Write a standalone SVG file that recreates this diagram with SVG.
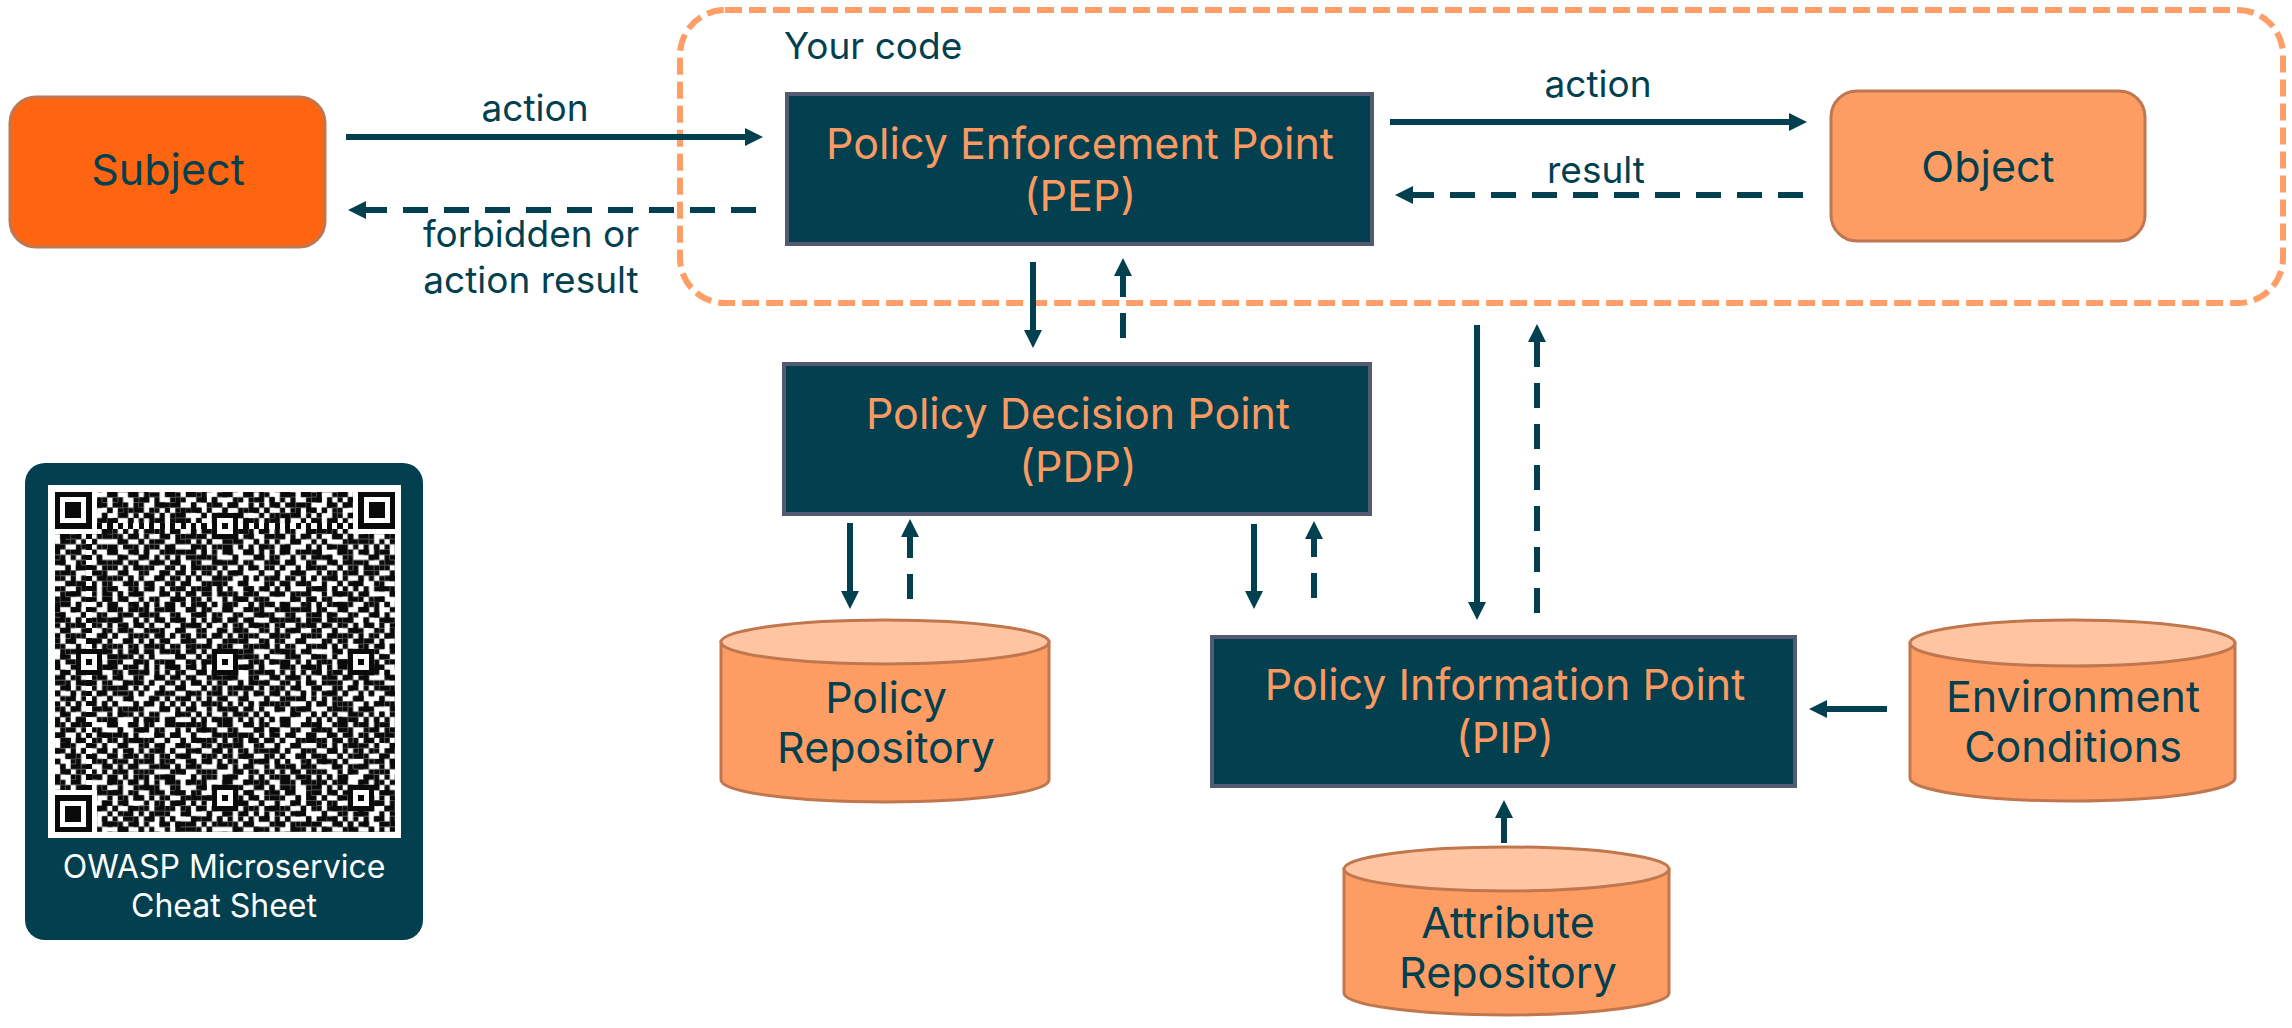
<svg xmlns="http://www.w3.org/2000/svg" width="2292" height="1028" viewBox="0 0 2292 1028">
<style>
.lbl{font-family:Inter,"Liberation Sans",sans-serif;font-size:37px;fill:#02404F;text-anchor:middle}
.big{font-family:Inter,"Liberation Sans",sans-serif;font-size:43px;text-anchor:middle}
.dk{fill:#FA9A62}
.tl{fill:#02404F}
.darkbox{fill:#02404F;stroke:#555A73;stroke-width:4}
.obox{stroke:#BE7750;stroke-width:3}
.cylb{fill:#FE9D63;stroke:#C0774E;stroke-width:3}
.cylt{fill:#FFC4A1;stroke:#C0774E;stroke-width:3}
.solid{stroke:#02404F;stroke-width:6;fill:none}
.dash{stroke:#02404F;stroke-width:6;fill:none;stroke-dasharray:25 16}
.qrt{font-family:Inter,"Liberation Sans",sans-serif;font-size:32px;fill:#FFFFFF;text-anchor:middle}
</style>
<defs>
<marker id="ah" markerUnits="userSpaceOnUse" markerWidth="18" markerHeight="18" refX="0" refY="9" orient="auto" viewBox="0 0 18 18">
<path d="M0,0 L18,9 L0,18 Z" fill="#02404F"/>
</marker>
<pattern id="qa" width="11" height="11" patternUnits="userSpaceOnUse">
<path fill="#0A0A0A" d="M0 0h1v1h-1z M3 0h2v1h-2z M6 0h1v1h-1z M10 0h1v1h-1z M1 1h1v1h-1z M5 1h2v1h-2z M8 1h1v1h-1z M0 2h2v1h-2z M4 2h1v1h-1z M8 2h2v1h-2z M2 3h1v1h-1z M4 3h2v1h-2z M7 3h1v1h-1z M10 3h1v1h-1z M1 4h2v1h-2z M6 4h1v1h-1z M9 4h1v1h-1z M0 5h1v1h-1z M3 5h1v1h-1z M5 5h1v1h-1z M8 5h2v1h-2z M2 6h2v1h-2z M7 6h1v1h-1z M10 6h1v1h-1z M0 7h1v1h-1z M4 7h1v1h-1z M6 7h2v1h-2z M9 7h1v1h-1z M1 8h1v1h-1z M3 8h2v1h-2z M9 8h2v1h-2z M1 9h2v1h-2z M5 9h1v1h-1z M7 9h1v1h-1z M0 10h1v1h-1z M4 10h1v1h-1z M6 10h1v1h-1z M8 10h1v1h-1z M10 10h1v1h-1z"/>
</pattern>
<pattern id="qb" x="3" y="5" width="13" height="13" patternUnits="userSpaceOnUse">
<path fill="#0A0A0A" d="M2 0h1v1h-1z M7 0h2v1h-2z M11 0h1v1h-1z M0 1h1v1h-1z M4 1h1v1h-1z M9 1h1v1h-1z M12 1h1v1h-1z M3 2h1v1h-1z M6 2h2v1h-2z M10 2h1v1h-1z M1 3h1v1h-1z M5 3h1v1h-1z M8 3h1v1h-1z M11 3h2v1h-2z M0 4h1v1h-1z M3 4h2v1h-2z M9 4h1v1h-1z M2 5h1v1h-1z M6 5h1v1h-1z M10 5h2v1h-2z M1 6h1v1h-1z M4 6h1v1h-1z M7 6h2v1h-2z M12 6h1v1h-1z M0 7h1v1h-1z M5 7h1v1h-1z M9 7h2v1h-2z M2 8h2v1h-2z M7 8h1v1h-1z M11 8h1v1h-1z M1 9h1v1h-1z M6 9h1v1h-1z M8 9h1v1h-1z M12 9h1v1h-1z M0 10h1v1h-1z M4 10h2v1h-2z M10 10h1v1h-1z M3 11h1v1h-1z M7 11h1v1h-1z M9 11h1v1h-1z M11 11h1v1h-1z M1 12h2v1h-2z M6 12h1v1h-1z M12 12h1v1h-1z"/>
</pattern>
<g id="finder">
<rect x="0" y="0" width="7" height="7" fill="#0A0A0A"/>
<rect x="1" y="1" width="5" height="5" fill="#FFFFFF"/>
<rect x="2" y="2" width="3" height="3" fill="#0A0A0A"/>
</g>
<g id="align">
<rect x="-2" y="-2" width="5" height="5" fill="#0A0A0A"/>
<rect x="-1" y="-1" width="3" height="3" fill="#FFFFFF"/>
<rect x="0" y="0" width="1" height="1" fill="#0A0A0A"/>
</g>
</defs>
<rect x="0" y="0" width="2292" height="1028" fill="#FFFFFF"/>

<g id="your-code">
<rect x="680" y="10" width="1603" height="293" rx="45" ry="45" fill="none" stroke="#FF9E66" stroke-width="6" stroke-dasharray="17 7"/>
<text class="lbl" x="784" y="59" style="text-anchor:start">Your code</text>
</g>

<g id="subject">
<rect x="10" y="97" width="315" height="150" rx="26" ry="26" class="obox" fill="#FF6410"/>
<text class="big tl" x="168" y="185">Subject</text>
</g>

<g id="pep">
<rect x="787" y="94" width="585" height="150" class="darkbox"/>
<text class="big dk" x="1080" y="159">Policy Enforcement Point</text>
<text class="big dk" x="1080" y="211">(PEP)</text>
</g>

<g id="object">
<rect x="1831" y="91" width="314" height="150" rx="26" ry="26" class="obox" fill="#FE9D63"/>
<text class="big tl" x="1988" y="182">Object</text>
</g>

<g id="pdp">
<rect x="784" y="364" width="586" height="150" class="darkbox"/>
<text class="big dk" x="1078" y="429">Policy Decision Point</text>
<text class="big dk" x="1078" y="482">(PDP)</text>
</g>

<g id="pip">
<rect x="1212" y="637" width="583" height="149" class="darkbox"/>
<text class="big dk" x="1505" y="700">Policy Information Point</text>
<text class="big dk" x="1505" y="753">(PIP)</text>
</g>

<g id="policy-repository">
<path class="cylb" d="M721,642 L721,780 A164,22 0 0 0 1049,780 L1049,642 Z"/>
<ellipse class="cylt" cx="885" cy="642" rx="164" ry="22"/>
<text class="big tl" x="886" y="713">Policy</text>
<text class="big tl" x="886" y="763">Repository</text>
</g>

<g id="environment-conditions">
<path class="cylb" d="M1910,643 L1910,778 A162.5,23 0 0 0 2235,778 L2235,643 Z"/>
<ellipse class="cylt" cx="2072.5" cy="643" rx="162.5" ry="23"/>
<text class="big tl" x="2073" y="712">Environment</text>
<text class="big tl" x="2073" y="762">Conditions</text>
</g>

<g id="attribute-repository">
<path class="cylb" d="M1344,869 L1344,993 A162.5,22 0 0 0 1669,993 L1669,869 Z"/>
<ellipse class="cylt" cx="1506.5" cy="869" rx="162.5" ry="22"/>
<text class="big tl" x="1508" y="938">Attribute</text>
<text class="big tl" x="1508" y="988">Repository</text>
</g>

<g id="connectors">
<line class="solid" x1="346" y1="137" x2="745" y2="137" marker-end="url(#ah)"/>
<text class="lbl" x="535" y="121">action</text>
<line class="dash" x1="756" y1="210" x2="366" y2="210" marker-end="url(#ah)"/>
<text class="lbl" x="531" y="247">forbidden or</text>
<text class="lbl" x="531" y="293">action result</text>
<line class="solid" x1="1390" y1="122" x2="1789" y2="122" marker-end="url(#ah)"/>
<text class="lbl" x="1598" y="97">action</text>
<line class="dash" x1="1803" y1="195" x2="1413" y2="195" marker-end="url(#ah)"/>
<text class="lbl" x="1596" y="183">result</text>
<line class="solid" x1="1033" y1="262" x2="1033" y2="330" marker-end="url(#ah)"/>
<line class="dash" x1="1123" y1="338" x2="1123" y2="276" marker-end="url(#ah)"/>
<line class="solid" x1="850" y1="523" x2="850" y2="591" marker-end="url(#ah)"/>
<line class="dash" x1="910" y1="599" x2="910" y2="537" marker-end="url(#ah)"/>
<line class="solid" x1="1254" y1="524" x2="1254" y2="591" marker-end="url(#ah)"/>
<line class="dash" x1="1314" y1="598" x2="1314" y2="539" marker-end="url(#ah)"/>
<line class="solid" x1="1477" y1="325" x2="1477" y2="602" marker-end="url(#ah)"/>
<line class="dash" x1="1537" y1="613" x2="1537" y2="342" marker-end="url(#ah)"/>
<line class="solid" x1="1887" y1="709" x2="1827" y2="709" marker-end="url(#ah)"/>
<line class="solid" x1="1504" y1="843" x2="1504" y2="818" marker-end="url(#ah)"/>
</g>

<g id="qr-card">
<rect x="25" y="463" width="398" height="477" rx="20" ry="20" fill="#02404F"/>
<rect x="48" y="485" width="353" height="353" fill="#FFFFFF"/>
<g transform="translate(55,492) scale(5.2308)" shape-rendering="crispEdges">
<rect x="0" y="0" width="65" height="65" fill="url(#qa)"/>
<rect x="0" y="0" width="65" height="65" fill="url(#qb)"/>
<rect x="0" y="0" width="8" height="8" fill="#FFFFFF"/>
<rect x="57" y="0" width="8" height="8" fill="#FFFFFF"/>
<rect x="0" y="57" width="8" height="8" fill="#FFFFFF"/>
<rect x="8" y="6" width="49" height="1" fill="#FFFFFF"/>
<rect x="6" y="8" width="1" height="49" fill="#FFFFFF"/>
<line x1="8" y1="6.5" x2="57" y2="6.5" stroke="#0A0A0A" stroke-width="1" stroke-dasharray="1 1"/>
<line x1="6.5" y1="8" x2="6.5" y2="57" stroke="#0A0A0A" stroke-width="1" stroke-dasharray="1 1"/>
<use href="#finder" x="0" y="0"/>
<use href="#finder" x="58" y="0"/>
<use href="#finder" x="0" y="58"/>
<use href="#align" x="6" y="32"/>
<use href="#align" x="32" y="6"/>
<use href="#align" x="32" y="32"/>
<use href="#align" x="32" y="58"/>
<use href="#align" x="58" y="32"/>
<use href="#align" x="58" y="58"/>
</g>
<text class="qrt" x="224" y="878">OWASP Microservice</text>
<text class="qrt" x="224" y="917">Cheat Sheet</text>
</g>
</svg>
